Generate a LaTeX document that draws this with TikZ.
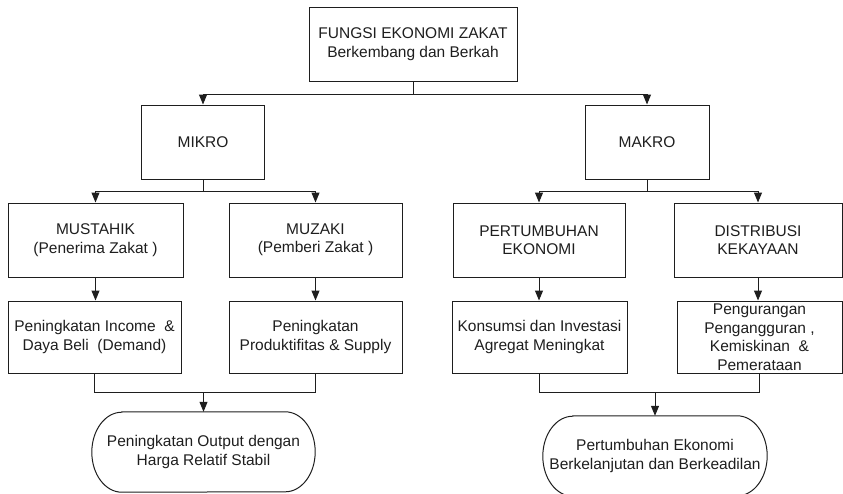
\documentclass[tikz,border=0pt]{standalone}
\usepackage{fontspec}
\setmainfont{Liberation Sans}
\usetikzlibrary{arrows.meta}
\definecolor{inkgray}{RGB}{30,30,30}
\tikzset{
  chart box/.style={
    rectangle, draw=inkgray, line width=1pt,
    text=inkgray, align=center, inner sep=2pt,
    font=\fontsize{15.5}{18.5}\selectfont
  },
  chart end/.style={
    rectangle, text=inkgray, align=center, inner sep=2pt,
    minimum width=223pt, minimum height=80pt,
    font=\fontsize{15.5}{18.5}\selectfont
  },
  chart line/.style={draw=inkgray, line width=1pt},
  chart arrow/.style={chart line, -{Triangle[length=10pt,width=8pt]}}
}
\begin{document}
\begin{tikzpicture}[x=1pt,y=-1pt]
    \useasboundingbox (0,0) rectangle (843,493);
    % top level
    \node[chart box, minimum width=208pt, minimum height=74pt] (fungsi) at (413,44)
      {FUNGSI EKONOMI ZAKAT\\Berkembang dan Berkah};
    % mikro / makro
    \node[chart box, minimum width=123pt, minimum height=74pt] (mikro) at (203,142) {MIKRO};
    \node[chart box, minimum width=124pt, minimum height=74pt] (makro) at (647,142) {MAKRO};
    % second row
    \node[chart box, minimum width=175pt, minimum height=74pt] (mustahik) at (95.5,240)
      {MUSTAHIK\\(Penerima Zakat )};
    \node[chart box, minimum width=173pt, minimum height=74pt] (muzaki) at (315.5,240)
      {MUZAKI\\(Pemberi Zakat )};
    \node[chart box, minimum width=172pt, minimum height=74pt] (tumbuh) at (539,240)
      {PERTUMBUHAN\\EKONOMI};
    \node[chart box, minimum width=168pt, minimum height=74pt] (distribusi) at (758,240)
      {DISTRIBUSI\\KEKAYAAN};
    % third row
    \node[chart box, minimum width=173pt, minimum height=72pt] (income) at (94.5,337)
      {Peningkatan Income \ \&\\Daya Beli \ (Demand)};
    \node[chart box, minimum width=173pt, minimum height=72pt] (supply) at (315.5,337)
      {Peningkatan\\Produktifitas \& Supply};
    \node[chart box, minimum width=175pt, minimum height=72pt] (konsumsi) at (539.5,337)
      {Konsumsi dan Investasi\\Agregat Meningkat};
    \node[chart box, minimum width=165pt, minimum height=72pt, inner sep=0pt] (kurang) at (759.5,337)
      {Pengurangan\\Pengangguran ,\\Kemiskinan \ \&\\Pemerataan};
    % results
    \node[chart end] (outmikro) at (203.5,452)
      {Peningkatan Output dengan\\Harga Relatif Stabil};
    \node[chart end, minimum width=224pt] (outmakro) at (655,456)
      {Pertumbuhan Ekonomi\\Berkelanjutan dan Berkeadilan};
    \foreach \n in {outmikro,outmakro}
      \draw[chart line] ([xshift=30pt]\n.north west) -- ([xshift=-30pt]\n.north east)
        arc[start angle=90, end angle=-90, x radius=30pt, y radius=40pt]
        -- ([xshift=30pt]\n.south west)
        arc[start angle=270, end angle=90, x radius=30pt, y radius=40pt] -- cycle;
    % connectors
    \draw[chart arrow] (fungsi.south) -- ++(0,13) coordinate (splittop) -| (mikro.north);
    \draw[chart arrow] (splittop) -| (makro.north);
    \draw[chart arrow] (mikro.south) -- ++(0,12) coordinate (splitmikro) -| (mustahik.north);
    \draw[chart arrow] (splitmikro) -| (muzaki.north);
    \draw[chart arrow] (makro.south) -- ++(0,12) coordinate (splitmakro) -| (tumbuh.north);
    \draw[chart arrow] (splitmakro) -| (distribusi.north);
    \draw[chart arrow] (mustahik.south) -- (mustahik.south |- income.north);
    \draw[chart arrow] (muzaki.south) -- (muzaki.south |- supply.north);
    \draw[chart arrow] (tumbuh.south) -- (tumbuh.south |- konsumsi.north);
    \draw[chart arrow] (distribusi.south) -- (distribusi.south |- kurang.north);
    \draw[chart line] (income.south) -- ++(0,19) coordinate (joinmikro) -| (supply.south);
    \draw[chart arrow] (joinmikro -| outmikro.north) -- (outmikro.north);
    \draw[chart line] (konsumsi.south) -- ++(0,19) coordinate (joinmakro) -| (kurang.south);
    \draw[chart arrow] (joinmakro -| outmakro.north) -- (outmakro.north);
\end{tikzpicture}
\end{document}
